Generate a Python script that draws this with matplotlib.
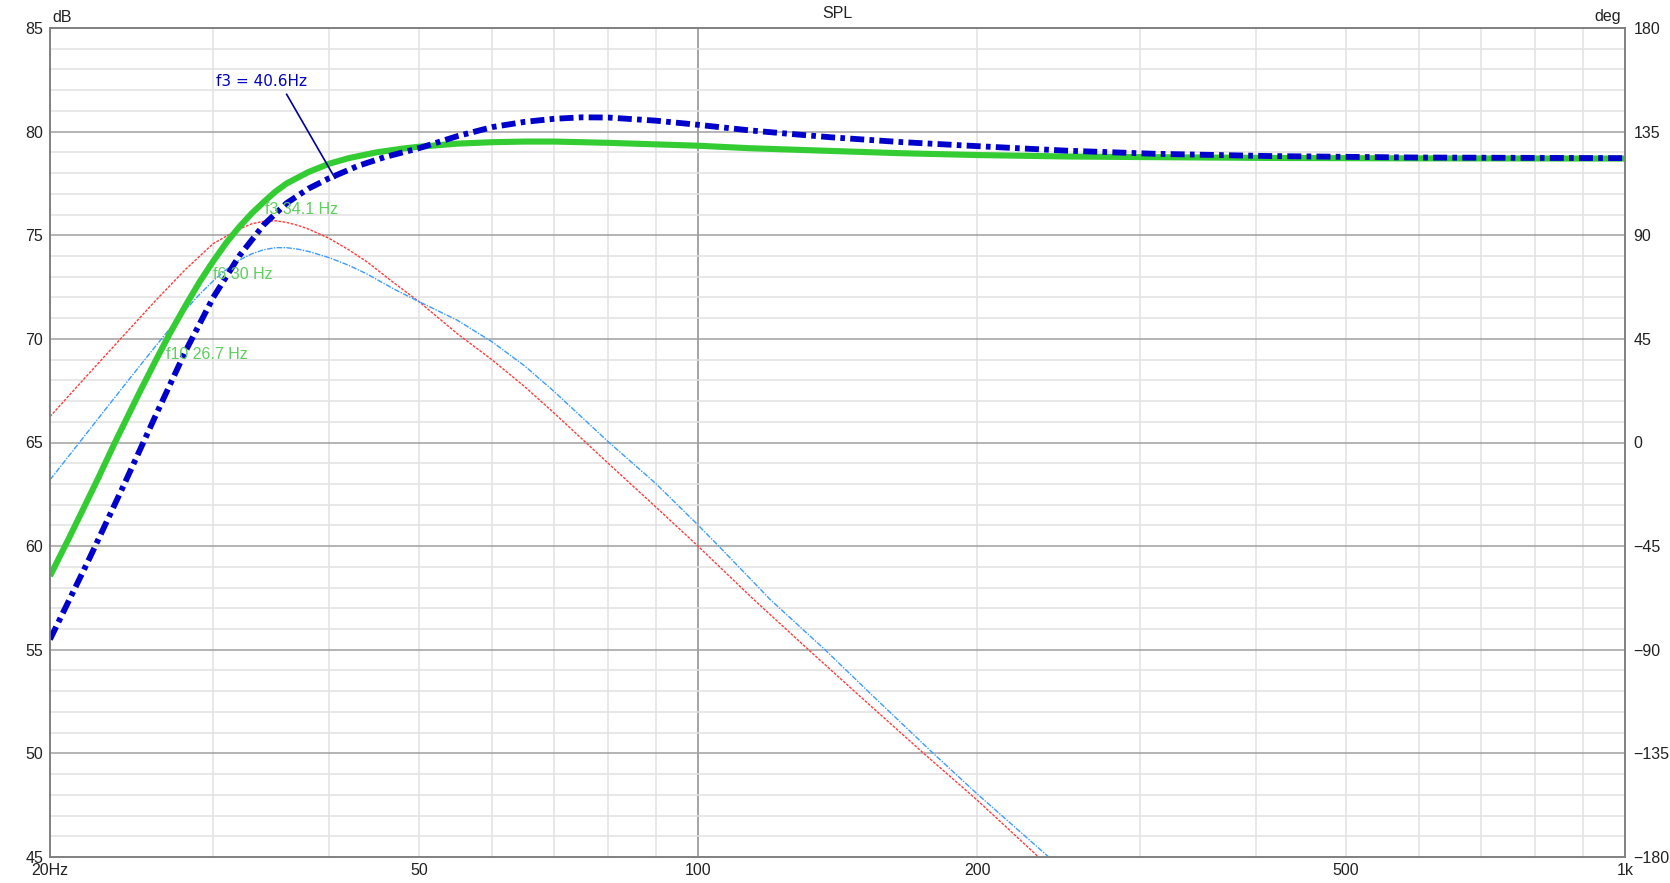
import numpy as np
import matplotlib
matplotlib.use("Agg")
import matplotlib.pyplot as plt
from matplotlib.ticker import NullLocator

plt.rcParams['font.family'] = ['Liberation Sans', 'DejaVu Sans']

# SPL curve (green, thick)
spl_freq = [20, 21, 22.5, 23.5, 25, 26, 27, 28, 29, 30, 31, 32, 33, 34, 35, 36, 38, 40,
            42, 45, 48, 50, 55, 60, 65, 70, 80, 100, 113.7, 138.8, 165, 200, 250, 305,
            415, 594, 1000]
spl_db = [58.56, 60.45, 63.2, 65.0, 67.45, 68.95, 70.35, 71.6, 72.75, 73.75, 74.65,
          75.4, 76.05, 76.6, 77.1, 77.5, 78.05, 78.45, 78.72, 79.0, 79.18, 79.27, 79.42,
          79.49, 79.52, 79.52, 79.46, 79.32, 79.2, 79.07, 78.96, 78.87, 78.8, 78.77,
          78.73, 78.71, 78.7]

# second SPL curve (blue, thick dash-dot)
alt_freq = [20, 22, 24, 26, 28, 30, 32, 34, 36, 38, 40, 43, 46, 50, 55, 60, 65, 70, 75,
            80, 90, 100, 113.7, 125, 138.8, 165, 200, 250, 311, 415, 594, 1000]
alt_db = [55.5, 59.3, 62.9, 66.3, 69.4, 72.0, 74.0, 75.5, 76.55, 77.25, 77.75, 78.35,
          78.78, 79.2, 79.78, 80.22, 80.47, 80.62, 80.69, 80.68, 80.53, 80.33, 80.06,
          79.9, 79.73, 79.5, 79.3, 79.08, 78.93, 78.82, 78.75, 78.72]

# thin red curve
red_freq = [20, 22, 24, 26, 28, 30, 32, 33, 34, 35, 36, 37, 38, 40, 42, 44, 47, 50, 55,
            60, 65, 70, 80, 90, 100, 115, 131.6, 150, 175.2, 200, 233, 240]
red_db = [66.25, 68.3, 70.15, 71.85, 73.35, 74.6, 75.3, 75.55, 75.67, 75.7, 75.62,
          75.48, 75.3, 74.85, 74.3, 73.7, 72.7, 71.8, 70.25, 68.98, 67.7, 66.41, 64.0,
          61.9, 60.0, 57.4, 55.0, 52.7, 50.0, 47.75, 45.0, 44.5]

# thin light blue curve
lb_freq = [20, 21, 22, 23, 24, 25, 26, 27, 28, 29, 30, 31, 32, 33, 34, 35, 36, 37, 38,
           40, 42, 44, 47, 50, 55, 60, 65, 70, 80, 90, 100, 105.3, 119.8, 137.1, 155,
           179.4, 200, 238.7, 244]
lb_db = [63.2, 64.4, 65.55, 66.65, 67.7, 68.7, 69.65, 70.55, 71.4, 72.15, 72.8, 73.35,
         73.8, 74.1, 74.3, 74.4, 74.4, 74.33, 74.22, 73.92, 73.55, 73.12, 72.4, 71.8,
         70.9, 69.85, 68.7, 67.45, 65.04, 63.03, 61.02, 60.0, 57.4, 55.0, 52.7, 50.0,
         48.05, 45.02, 44.6]

# corner-frequency labels
green_labels = ['f3 34.1 Hz', 'f6 30 Hz', 'f10 26.7 Hz']
green_label_freq = [34.1, 30.0, 26.7]
green_label_db = [76.62, 73.48, 69.62]

f3_text = 'f3 = 40.6Hz'
f3_text_pos = (30.2, 82.44)
f3_line_freq = [36.0, 40.6]
f3_line_db = [81.8, 77.75]

xtick_vals = [20, 50, 100, 200, 500, 1000]
xtick_text = ['20Hz', '50', '100', '200', '500', '1k']
grid_freqs = [30, 40, 50, 60, 70, 80, 90, 200, 300, 400, 500, 600, 700, 800, 900]

W, H = 1670, 883
fig = plt.figure(figsize=(W / 100, H / 100), dpi=100)
ax = fig.add_axes([50 / W, 1 - 857 / H, 1575 / W, 829 / H])

ax.set_xscale('log')
ax.set_xlim(20, 1000)
ax.set_ylim(45, 85)

for f in grid_freqs:
    ax.axvline(f, color='#e2e2e2', lw=1.1, zorder=0)
ax.axvline(100, color='#8c8c8c', lw=1.1, zorder=0)
for d in range(46, 85):
    if d % 5:
        ax.axhline(d, color='#e2e2e2', lw=1.1, zorder=0)
    else:
        ax.axhline(d, color='#a0a0a0', lw=1.1, zorder=0)

ax.plot(red_freq, red_db, color='#ff3b3b', lw=1.0, ls=(0, (2, 1)), zorder=2)
ax.plot(lb_freq, lb_db, color='#3d9cff', lw=1.0, ls=(0, (4, 1, 1, 1)), zorder=2)
ax.plot(spl_freq, spl_db, color='#33cc33', lw=4.4, solid_capstyle='butt',
        solid_joinstyle='round', zorder=3)
ax.plot(alt_freq, alt_db, color='#0000cc', lw=4.2, dashes=(2.4, 0.9, 0.8, 0.9),
        dash_capstyle='butt', zorder=4)

for t, f, d in zip(green_labels, green_label_freq, green_label_db):
    ax.text(f, d, t, color='#5ccf5c', fontsize=11.5, ha='left', va='top', zorder=5)

ax.plot(f3_line_freq, f3_line_db, color='#0000a0', lw=1.2, zorder=5)
ax.text(f3_text_pos[0], f3_text_pos[1], f3_text, color='#0000c0', fontsize=11,
        family=['DejaVu Sans'], ha='left', va='center', zorder=5)

ax.set_xticks(xtick_vals)
ax.set_xticklabels(xtick_text)
ax.xaxis.set_minor_locator(NullLocator())
ax.set_yticks(np.arange(45, 86, 5))
ax.tick_params(length=0, labelsize=11.5, labelcolor='#222222')
ax.tick_params(axis='y', pad=5)
ax.tick_params(axis='x', pad=4)

for s in ax.spines.values():
    s.set_color('#808080')
    s.set_linewidth(1.2)

ax2 = ax.twinx()
ax2.set_ylim(-180, 180)
ax2.set_yticks(np.arange(-180, 181, 45))
ax2.tick_params(length=0, labelsize=11.5, labelcolor='#222222', pad=6)
for s in ax2.spines.values():
    s.set_color('#808080')
    s.set_linewidth(1.2)

fig.text(837 / W, 1 - 13 / H, 'SPL', fontsize=11.5, color='#222222', ha='center', va='center')
fig.text(52 / W, 1 - 17 / H, 'dB', fontsize=11.5, color='#222222', ha='left', va='center')
fig.text(1621 / W, 1 - 17 / H, 'deg', fontsize=11.5, color='#222222', ha='right', va='center')

fig.savefig('out.png', dpi=100, facecolor='white')
